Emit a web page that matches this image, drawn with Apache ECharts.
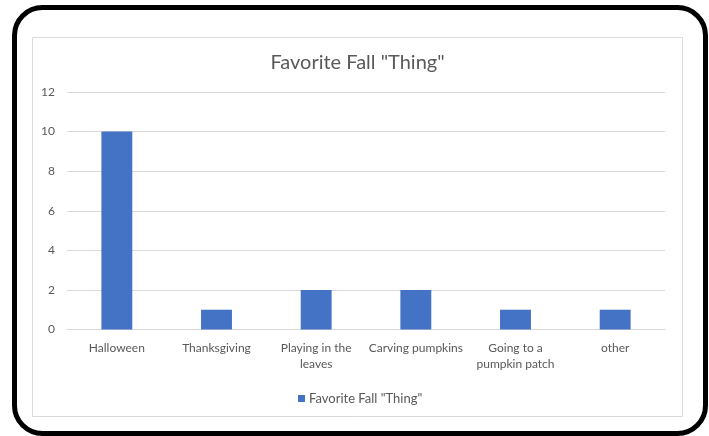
<!DOCTYPE html>
<html>
<head>
<meta charset="utf-8">
<script src="https://cdn.jsdelivr.net/npm/echarts@6/dist/echarts.min.js"></script>
<style>
  html, body { margin: 0; padding: 0; background: #fff; }
  #chart { width: 709px; height: 436px; }
</style>
</head>
<body>
<div id="chart"></div>
<script>
// 数据
var categories = ['Halloween', 'Thanksgiving', 'Playing in the\nleaves', 'Carving pumpkins', 'Going to a\npumpkin patch', 'other'];
var values = [10, 1, 2, 2, 1, 1];
var seriesName = 'Favorite Fall "Thing"';
var yTicks = [0, 2, 4, 6, 8, 10, 12];

var myChart = echarts.init(document.getElementById('chart'));
var font = 'Lato, "Open Sans", sans-serif';
var grey = '#595959';

var graphic = [
  {
    type: 'rect',
    silent: true,
    z: -10,
    shape: { x: 14.5, y: 7.5, width: 691, height: 426, r: 28 },
    style: { fill: 'none', stroke: '#000', lineWidth: 5 }
  },
  {
    type: 'rect',
    silent: true,
    z: -10,
    shape: { x: 32.5, y: 37.5, width: 650, height: 379 },
    style: { fill: 'none', stroke: '#d9d9d9', lineWidth: 1 }
  }
];

myChart.setOption({
  animation: false,
  graphic: graphic,
  title: {
    text: seriesName,
    left: 352.5,
    textAlign: 'center',
    top: 48,
    textStyle: { fontFamily: font, fontSize: 20, fontWeight: 'normal', color: grey }
  },
  legend: {
    data: [seriesName],
    left: 293,
    top: 387,
    icon: 'rect',
    itemWidth: 7,
    itemHeight: 7,
    textStyle: { fontFamily: font, fontSize: 13, color: grey, padding: [0, 0, 0, -1] }
  },
  grid: { left: 67, right: 44, top: 92, bottom: 106.5 },
  xAxis: {
    type: 'category',
    data: categories,
    axisTick: { show: false },
    axisLine: { lineStyle: { color: '#d9d9d9' } },
    axisLabel: { color: grey, fontFamily: font, fontSize: 12, margin: 11, lineHeight: 16, interval: 0 }
  },
  yAxis: {
    type: 'value',
    min: yTicks[0],
    max: yTicks[yTicks.length - 1],
    interval: 2,
    axisLine: { show: false },
    axisTick: { show: false },
    axisLabel: { color: grey, fontFamily: font, fontSize: 12, margin: 12 },
    splitLine: { lineStyle: { color: '#d9d9d9' } }
  },
  series: [
    {
      name: seriesName,
      type: 'bar',
      barWidth: '31%',
      itemStyle: { color: '#4472C4' },
      data: values
    }
  ]
});
</script>
</body>
</html>
